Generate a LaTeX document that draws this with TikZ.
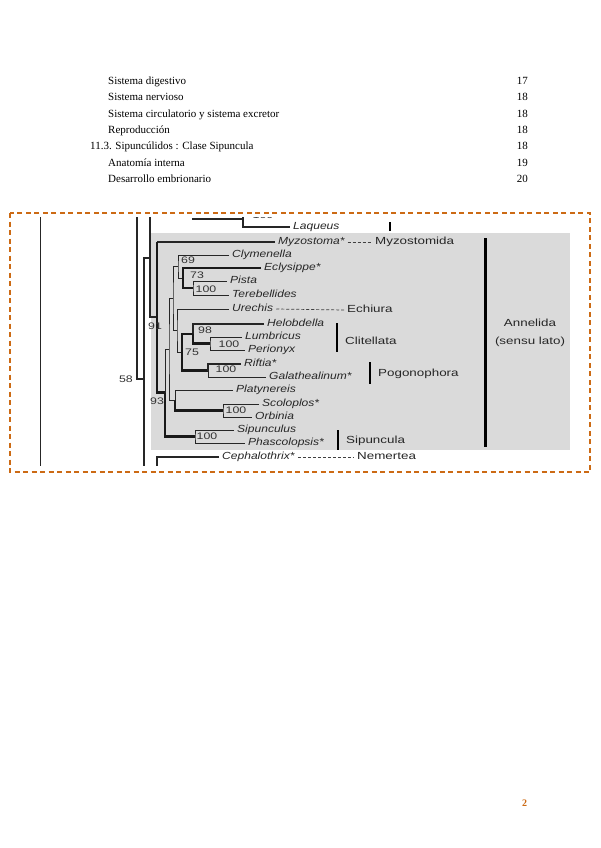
\documentclass[tikz,border=0pt]{standalone}
\usepackage{fontspec}
\setmainfont{Liberation Serif}
\newfontfamily\leaffont[FakeStretch=1.17]{Liberation Sans}
\newfontfamily\cladefont[FakeStretch=1.3]{Liberation Sans}
\usepackage{tikz}
\usetikzlibrary{positioning}
\definecolor{PGorange}{HTML}{CC6A14}
\definecolor{TRgray}{HTML}{DADADA}

\begin{document}
\begin{tikzpicture}[
  x=1pt,y=-1pt,
  toc/.style={anchor=base west,inner sep=0pt,font=\fontsize{11}{13}\selectfont},
  tocno/.style={anchor=base east,inner sep=0pt,font=\fontsize{11}{13}\selectfont},
  leaf/.style={anchor=west,inner xsep=3pt,inner ysep=0pt,text height=7pt,text depth=1.5pt,
    font=\leaffont\itshape\fontsize{10.3}{12}\selectfont,text=black!85},
  clade/.style={anchor=west,inner xsep=3pt,inner ysep=0pt,text height=7pt,text depth=1.5pt,
    font=\cladefont\fontsize{10.3}{12}\selectfont,text=black!85},
  bs/.style={inner sep=0pt,font=\cladefont\fontsize{9.5}{11}\selectfont,text=black!80},
  br/.style={line width=0.9pt,draw=black!85},
  mb/.style={line width=1.4pt,draw=black!85},
  tb/.style={line width=2.2pt,draw=black!90},
  dl/.style={line width=0.7pt,draw=black!75,dash pattern=on 3pt off 2pt},
  cbar/.style={line width=2.6pt,draw=black},
  obox/.style={draw=PGorange,line width=1.3pt,dash pattern=on 5pt off 3.5pt}
]
\useasboundingbox[fill=white] (0,0) rectangle (600,848);

% table of contents
\node[toc] (t1) at (108,84.5) {Sistema digestivo};
\node[toc] (t2) at (108,100.8) {Sistema nervioso};
\node[toc] (t3) at (108,117.1) {Sistema circulatorio y sistema excretor};
\node[toc] (t4) at (108,133.4) {Reproducción};
\node[toc] (t5) at (90,149.7) {11.3. Sipuncúlidos : Clase Sipuncula};
\node[toc] (t6) at (108,166) {Anatomía interna};
\node[toc] (t7) at (108,182.3) {Desarrollo embrionario};
\node[tocno] (p1) at (528,84.5) {17};
\node[tocno] (p2) at (528,100.8) {18};
\node[tocno] (p3) at (528,117.1) {18};
\node[tocno] (p4) at (528,133.4) {18};
\node[tocno] (p5) at (528,149.7) {18};
\node[tocno] (p6) at (528,166) {19};
\node[tocno] (p7) at (528,182.3) {20};

% framed figure
\draw[obox] (10,213) rectangle (590,472);

\begin{scope}
\clip (35,217.5) rectangle (575,465.5);
\fill[TRgray] (151,233) rectangle (570,450);

% leaves
\node[leaf] (laq) at (290,227) {Laqueus};
\node[leaf] (myzo) at (275,242) {Myzostoma*};
\node[leaf] (clym) at (229,255) {Clymenella};
\node[leaf] (ecly) at (261,268) {Eclysippe*};
\node[leaf] (pista) at (227,281) {Pista};
\node[leaf] (tere) at (229,295) {Terebellides};
\node[leaf] (urec) at (229,309) {Urechis};
\node[leaf] (helo) at (264,324) {Helobdella};
\node[leaf] (lumb) at (242,337) {Lumbricus};
\node[leaf] (peri) at (245,350) {Perionyx};
\node[leaf] (rift) at (241,364) {Riftia*};
\node[leaf] (gala) at (266,377) {Galathealinum*};
\node[leaf] (plat) at (233,390) {Platynereis};
\node[leaf] (scol) at (259,404) {Scoloplos*};
\node[leaf] (orbi) at (252,417) {Orbinia};
\node[leaf] (sipu) at (234,430) {Sipunculus};
\node[leaf] (phas) at (245,443) {Phascolopsis*};
\node[leaf] (ceph) at (219,457) {Cephalothrix*};

% clade names
\node[clade] (myzc) at (372,242) {Myzostomida};
\node[clade] (echc) at (344,310) {Echiura};
\node[clade] (clic) at (342,342) {Clitellata};
\node[clade] (pogc) at (375,374) {Pogonophora};
\node[clade] (sipc) at (343,441) {Sipuncula};
\node[clade] (nemc) at (354,457) {Nemertea};
\node[clade,anchor=center,align=center,font=\cladefont\fontsize{10.3}{18}\selectfont,
  text height=,text depth=] (anne) at (530,333) {Annelida\\(sensu lato)};

% internal nodes
\coordinate (nLq) at (243,219);
\coordinate (nLqp) at (192,219);
\coordinate (nLqu) at (243,205);
\coordinate (nPT) at (193,288);
\coordinate (n73) at (183,278);
\coordinate (n69) at (178,266);
\coordinate (nLP) at (210,343.5);
\coordinate (n98) at (193,334);
\coordinate (nRG) at (208,370.5);
\coordinate (n75) at (182,352);
\coordinate (nC) at (177,330.5);
\coordinate (nB) at (173,298);
\coordinate (nSO) at (223,410.5);
\coordinate (nPl) at (175,400);
\coordinate (nA) at (169,349);
\coordinate (nSi) at (195,436.5);
\coordinate (n93) at (165,392.5);
\coordinate (n91) at (157,317);
\coordinate (nTop) at (150,258);
\coordinate (nTopu) at (150,200);
\coordinate (n58) at (144,379);
\coordinate (n58p) at (137,379);
\coordinate (n58u) at (137,200);
\coordinate (nNe) at (157,500);
\coordinate (outu) at (40,200);
\coordinate (outd) at (40,500);

% branches
\draw[br] (outu) -- (outd);
\draw[br,line width=1.2pt] (n58u) -- (n58p) -- (n58);
\draw[mb] (n58) |- (nTop);
\draw[mb] (n58) |- (nNe);
\draw[mb] (nTopu) |- (n91);
\draw[mb] (nLqp) -- (nLq);
\draw[mb] (nLqu) |- (laq.west);
\draw[mb] (myzo.west) -- (n91 |- myzo);
\draw[tb] (n91 |- myzo) -- (n91) |- (n93);
\draw[br] (clym.west) -| (n69) |- (n73);
\draw[tb] (ecly.west) -| (n73) |- (nPT);
\draw[br] (pista.west) -| (nPT) |- (tere.west);
\draw[br] (urec.west) -| (nC) |- (n75);
\draw[mb] (helo.west) -| (n98);
\draw[tb] (n98) |- (nLP);
\draw[br] (lumb.west) -| (nLP) |- (peri.west);
\draw[tb] (n98) -| (n75) |- (nRG);
\draw[mb] (rift.west) -| (nRG);
\draw[br] (nRG) |- (gala.west);
\draw[br] (n69) -| (nB) |- (nC);
\draw[br] (plat.west) -| (nPl);
\draw[tb] (nPl) |- (nSO);
\draw[br] (scol.west) -| (nSO) |- (orbi.west);
\draw[br] (nB) -| (nA) |- (nPl);
\draw[br] (nA) -| (n93);
\draw[tb] (n93) |- (nSi);
\draw[br] (sipu.west) -| (nSi) |- (phas.west);
\draw[mb] (ceph.west) -| (nNe);

% bootstrap values
\node[bs] (b0) at (263,215) {100};
\node[bs] (b69) at (188,260) {69};
\node[bs] (b73) at (197,275) {73};
\node[bs] (bPT) at (206,289) {100};
\node[bs] (b91) at (155,326) {91};
\node[bs] (b98) at (205,330) {98};
\node[bs] (bLP) at (229,344) {100};
\node[bs] (b75) at (192,352) {75};
\node[bs] (bRG) at (226,369) {100};
\node[bs] (b58) at (126,379) {58};
\node[bs] (b93) at (157,401) {93};
\node[bs] (bSO) at (236,410) {100};
\node[bs] (bSi) at (207,436) {100};

% dashed links to clade names
\draw[dl] (myzo.east) -- (myzc.west);
\draw[dl] (urec.east) -- (echc.west);
\draw[dl] (ceph.east) -- (nemc.west);

% clade bars
\draw[cbar] (390,222) -- (390,231);
\draw[cbar] (337,323) -- (337,352);
\draw[cbar] (370,362) -- (370,384);
\draw[cbar] (338,430) -- (338,450);
\draw[cbar,line width=3pt] (485,238) -- (485,447);
\end{scope}

% page number
\node[font=\bfseries\fontsize{10}{12}\selectfont,text=PGorange,inner sep=0pt] (pg) at (524.5,803) {2};
\end{tikzpicture}
\end{document}
